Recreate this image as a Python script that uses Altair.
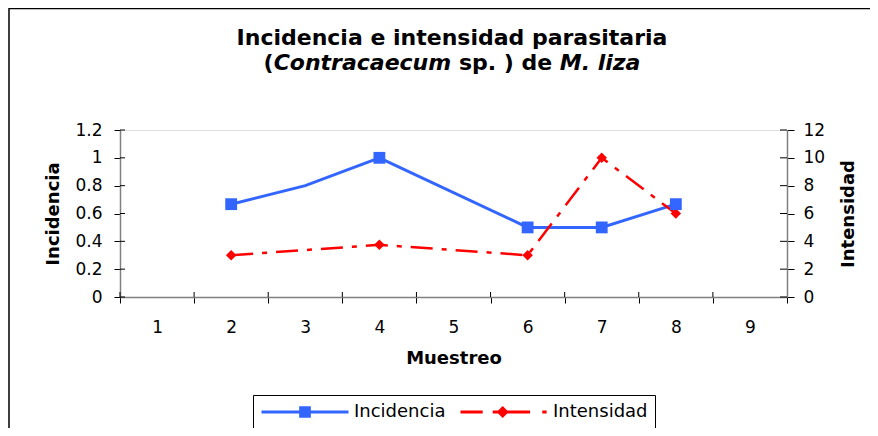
import altair as alt
import pandas as pd

# ---- data ----
muestreo = [1, 2, 3, 4, 5, 6, 7, 8, 9]
inc_x = [2, 3, 4, 6, 7, 8]
inc_y = [0.667, 0.8, 1.0, 0.5, 0.5, 0.667]
inc_marker = [True, False, True, True, True, True]
int_x = [2, 4, 6, 7, 8]
int_y = [3.0, 3.75, 3.0, 10.0, 6.0]
y1_ticks = [0, 0.2, 0.4, 0.6, 0.8, 1.0, 1.2]
y2_ticks = [0, 2, 4, 6, 8, 10, 12]
series = ["Incidencia", "Intensidad"]

title_line1 = "Incidencia e intensidad parasitaria"
title_parts = [("(", "normal"), ("Contracaecum", "italic"), ("sp. ) de", "normal"), ("M. liza", "italic")]

BLUE = "#3366FF"
RED = "#FF0000"
FONT = "DejaVu Sans"

df_inc = pd.DataFrame({"Muestreo": inc_x, "Incidencia": inc_y, "marker": inc_marker})
df_int = pd.DataFrame({"Muestreo": int_x, "Intensidad": int_y})
df_xt = pd.DataFrame({"Muestreo": muestreo})
df_y1t = pd.DataFrame({"v": y1_ticks})
df_y2t = pd.DataFrame({"v": y2_ticks})

W, H = 667, 167

xaxis = alt.Axis(title="Muestreo", labelAngle=0, tickBand="extent", grid=False,
                 domainColor="#808080", domainWidth=1.5, tickColor="#000000", tickSize=6,
                 labelFontSize=17, labelColor="#000000", labelPadding=29, labelBaseline="alphabetic",
                 titleFontSize=18, titleFontWeight="bold", titleColor="#000000",
                 titleY=66, titleBaseline="alphabetic")
xscale = alt.Scale(type="band", domain=muestreo, paddingInner=0, paddingOuter=0)
xenc = alt.X("Muestreo:O", bandPosition=0.5, scale=xscale, axis=xaxis)
xenc_start = alt.X("Muestreo:O", bandPosition=0, scale=xscale, axis=xaxis)

y1 = alt.Y("Incidencia:Q", scale=alt.Scale(domain=[0, 1.2], nice=False, zero=True),
           axis=alt.Axis(orient="left", values=y1_ticks, format="~g", grid=False,
                         domainColor="#808080", domainWidth=1.5, tickColor="#000000", tickSize=6,
                         labelFontSize=17, labelColor="#000000", labelPadding=12,
                         title="Incidencia", titleFontSize=18, titleFontWeight="bold",
                         titleColor="#000000", titleX=-62, titleY=H / 2, titleAngle=270,
                         titleAlign="center", titleBaseline="alphabetic"))
y2 = alt.Y("Intensidad:Q", scale=alt.Scale(domain=[0, 12], nice=False, zero=True),
           axis=alt.Axis(orient="right", values=y2_ticks, format="~g", grid=False,
                         domainColor="#808080", domainWidth=1.5, tickColor="#000000", tickSize=7,
                         labelFontSize=17, labelColor="#000000", labelPadding=9,
                         title="Intensidad", titleFontSize=18, titleFontWeight="bold",
                         titleColor="#000000", titleX=66, titleY=H / 2, titleAngle=270,
                         titleAlign="center", titleBaseline="alphabetic"))
y1_noaxis = alt.Y("Incidencia:Q", scale=alt.Scale(domain=[0, 1.2], nice=False, zero=True), axis=None)

# inner halves of the crossing tick marks
xt_in = alt.Chart(df_xt).mark_rule(color="#000000", strokeWidth=1).encode(
    x=xenc_start, y=alt.value(H - 5), y2=alt.value(H))
y1t_in = alt.Chart(df_y1t).mark_rule(color="#000000", strokeWidth=1).encode(
    y=alt.Y("v:Q", scale=alt.Scale(domain=[0, 1.2], nice=False), axis=None),
    x=alt.value(0), x2=alt.value(5))
y2t_in = alt.Chart(df_y2t).mark_rule(color="#000000", strokeWidth=1).encode(
    y=alt.Y("v:Q", scale=alt.Scale(domain=[0, 12], nice=False), axis=None),
    x=alt.value(W - 7), x2=alt.value(W))

inc_line = alt.Chart(df_inc).mark_line(color=BLUE, strokeWidth=3).encode(x=xenc, y=y1)
int_layer = alt.layer(
    alt.Chart(df_int).mark_line(color=RED, strokeWidth=2.5, strokeDash=[22, 9, 5, 9]).encode(x=xenc, y=y2),
    alt.Chart(df_int).mark_point(shape="diamond", filled=True, size=110, color=RED, opacity=1).encode(x=xenc, y=y2),
)
inc_pts = alt.Chart(df_inc).transform_filter("datum.marker").mark_point(
    shape="square", filled=True, size=140, color=BLUE, opacity=1).encode(x=xenc, y=y1_noaxis)

# legend (symbols drawn as line + marker through custom shape paths)
PATH_INC = "M-1,0H1M-0.1,-0.1H0.1V0.1H-0.1Z"
PATH_INT = "M-1,0H-0.49M-0.26,0H0.6M0.88,0H0.98M-0.03,-0.09L0.06,0L-0.03,0.09L-0.12,0Z"
leg = alt.Legend(title=None, orient="none", legendX=133, legendY=265, direction="horizontal",
                 symbolSize=7569, symbolStrokeWidth=3, clipHeight=20,
                 labelFont=FONT, labelFontSize=18, labelColor="#000000", labelOffset=4,
                 columnPadding=13, padding=7, strokeColor="#000000", labelLimit=300)
legend_df = pd.DataFrame({"Serie": series})
legend_layer = alt.Chart(legend_df).transform_filter("false").mark_point(
    filled=True, opacity=1, size=7569, strokeWidth=3).encode(
    shape=alt.Shape("Serie:N", scale=alt.Scale(domain=series, range=[PATH_INC, PATH_INT]), legend=leg),
    fill=alt.Fill("Serie:N", scale=alt.Scale(domain=series, range=[BLUE, RED]), legend=leg),
    stroke=alt.Stroke("Serie:N", scale=alt.Scale(domain=series, range=[BLUE, RED]), legend=leg),
)

one = pd.DataFrame({"k": [0]})
border = alt.Chart(one).mark_rect(fillOpacity=0, stroke="#000000", strokeWidth=1.5).encode(
    x=alt.value(-111), x2=alt.value(W + 200), y=alt.value(-121.5), y2=alt.value(H + 300))

# title
FS = 22
CX = 332
title1 = alt.Chart(one).mark_text(text=title_line1, font=FONT, fontSize=FS, fontWeight="bold",
                                  align="center", baseline="alphabetic", color="#000000").encode(
    x=alt.value(CX), y=alt.value(-85))

# approximate DejaVu Sans Bold advance widths (em) for laying out the mixed-style second line
adv = {"(": .457, ")": .457, "C": .734, "o": .687, "n": .712, "t": .478, "r": .493, "a": .675,
       "c": .593, "e": .678, "u": .712, "m": 1.042, "s": .595, "p": .716, ".": .380, " ": .348,
       "d": .716, "M": .995, "l": .343, "i": .343, "z": .582}
def wpx(s):
    return sum(adv.get(ch, .6) for ch in s) * FS
space = adv[" "] * FS
total = sum(wpx(t) for t, _ in title_parts) + space * (len(title_parts) - 2)
xpos = CX - total / 2
title2 = []
for i, (t, style) in enumerate(title_parts):
    title2.append(alt.Chart(one).mark_text(text=t, font=FONT, fontSize=FS, fontWeight="bold",
                                           fontStyle=style, align="left", baseline="alphabetic",
                                           color="#000000").encode(x=alt.value(xpos), y=alt.value(-60)))
    xpos += wpx(t) + (space if i >= 1 else 0)

chart = alt.layer(xt_in, y1t_in, y2t_in, inc_line, int_layer, inc_pts, legend_layer, border,
                  title1, *title2).resolve_scale(
    y="independent"
).properties(
    width=W, height=H,
    padding={"left": 112, "top": 122, "right": 83, "bottom": 131},
    autosize=alt.AutoSizeParams(type="none"),
    background="#FFFFFF",
).configure_view(strokeWidth=0).configure(font=FONT)

chart.save("out.html", embed_options={"renderer": "svg", "actions": False})
